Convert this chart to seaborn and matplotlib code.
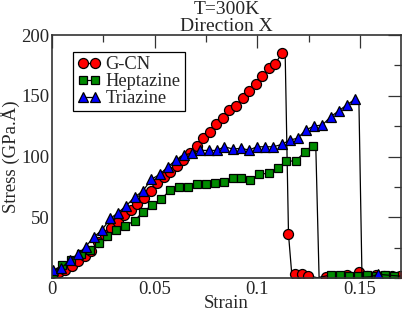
import matplotlib
matplotlib.use("Agg")
import matplotlib.pyplot as plt
import seaborn as sns
import pandas as pd
from matplotlib.ticker import MultipleLocator

# ---------------- data ----------------
gcn_strain = [0.0000, 0.0032, 0.0064, 0.0096, 0.0128, 0.0160, 0.0192, 0.0224, 0.0256, 0.0288,
              0.0320, 0.0352, 0.0384, 0.0416, 0.0448, 0.0480, 0.0512, 0.0544, 0.0576, 0.0608,
              0.0640, 0.0672, 0.0704, 0.0736, 0.0768, 0.0800, 0.0832, 0.0864, 0.0896, 0.0928,
              0.0960, 0.0992, 0.1024, 0.1056, 0.1088, 0.1120, 0.1136, 0.1152, 0.1168, 0.1184,
              0.1216, 0.1248, 0.1290, 0.1333, 0.1390, 0.1439, 0.1495, 0.1536, 0.1576, 0.1616,
              0.1655, 0.1697]
gcn_stress = [4.5, 5.0, 6.5, 10.0, 14.0, 18.0, 22.0, 30.0, 35.0, 41.0,
              46.0, 52.0, 56.0, 61.0, 66.0, 72.0, 78.0, 83.0, 87.5, 92.0,
              97.5, 102.5, 109.0, 115.0, 120.0, 126.5, 132.0, 138.0, 141.5, 148.5,
              154.0, 160.0, 166.0, 172.5, 176.5, 185.0, 183.0, 36.0, 3.0, 3.0,
              3.0, 2.0, 0.3, 0.5, 1.0, 2.5, 5.0, 2.0, 2.5, 1.5,
              2.0, 2.0]
gcn_marker = [True] * 36 + [False, True, False, True, True, True, False, True, False,
                            True, True, True, True, True, True, True]

hep_strain = [0.0006, 0.0047, 0.0092, 0.0139, 0.0184, 0.0228, 0.0270, 0.0312, 0.0357, 0.0403,
              0.0443, 0.0489, 0.0532, 0.0576, 0.0621, 0.0662, 0.0707, 0.0751, 0.0794, 0.0837,
              0.0880, 0.0922, 0.0966, 0.1010, 0.1055, 0.1099, 0.1142, 0.1188, 0.1233, 0.1269,
              0.1285, 0.1301, 0.1358, 0.1403, 0.1447, 0.1492, 0.1535, 0.1580, 0.1623, 0.1667]
hep_stress = [4.4, 10.7, 14.8, 19.7, 23.0, 29.0, 34.6, 39.5, 43.0, 47.2,
              54.6, 60.0, 65.0, 72.4, 75.0, 75.0, 77.0, 77.4, 78.0, 79.3,
              82.0, 82.6, 80.7, 85.6, 86.1, 90.8, 96.0, 96.5, 104.0, 108.9,
              108.0, 0.5, 2.5, 2.5, 2.0, 1.7, 2.5, 2.0, 2.5, 1.7]
hep_marker = [True] * 30 + [False, False] + [True] * 8

tri_strain = [0.0006, 0.0046, 0.0087, 0.0127, 0.0164, 0.0205, 0.0242, 0.0284, 0.0321, 0.0362,
              0.0402, 0.0443, 0.0484, 0.0524, 0.0563, 0.0603, 0.0642, 0.0683, 0.0723, 0.0764,
              0.0802, 0.0840, 0.0880, 0.0921, 0.0961, 0.0997, 0.1039, 0.1078, 0.1120, 0.1159,
              0.1196, 0.1236, 0.1277, 0.1317, 0.1358, 0.1398, 0.1435, 0.1476,
              0.1495, 0.1510, 0.1550, 0.1590, 0.1700]
tri_stress = [6.3, 8.0, 15.0, 19.7, 25.8, 34.0, 39.2, 49.0, 53.6, 59.5,
              66.5, 71.7, 81.2, 85.2, 91.3, 97.0, 101.0, 103.0, 105.0, 105.0,
              105.0, 108.0, 106.2, 106.7, 105.3, 108.0, 108.0, 108.0, 110.0, 113.6,
              115.0, 121.8, 125.1, 125.9, 132.8, 137.7, 142.4, 147.1,
              145.0, 0.5, 1.0, 3.0, 1.5]
tri_marker = [True] * 38 + [False, False, False, True, False]

series_names = ["G-CN", "Heptazine", "Triazine"]
series_colors = ["#ff0000", "#008b00", "#0000ff"]
series_markers = ["o", "s", "^"]
series_sizes = [7.2, 6.4, 7.4]

x_ticks = [0, 0.05, 0.1, 0.15]
x_ticklabels = ["0", "0.05", "0.1", "0.15"]
y_ticks = [50, 100, 150, 200]
y_ticklabels = ["50", "100", "150", "200"]

# ---------------- plot ----------------
sns.set_theme(style="white")
plt.rcParams["font.family"] = ["Liberation Serif", "DejaVu Serif"]

fig = plt.figure(figsize=(4.07, 3.14), dpi=100)
ax = fig.add_axes([52 / 407, 1 - 278 / 314, 349 / 407, 243 / 314])

data_sets = [(gcn_strain, gcn_stress, gcn_marker),
             (hep_strain, hep_stress, hep_marker),
             (tri_strain, tri_stress, tri_marker)]

for (xs, ys, mk), name, col, m, ms in zip(data_sets, series_names, series_colors,
                                          series_markers, series_sizes):
    df = pd.DataFrame({"Strain": xs, "Stress": ys})
    sns.lineplot(data=df, x="Strain", y="Stress", ax=ax, estimator=None, sort=False,
                 color="black", lw=0.9, marker=m, markersize=ms,
                 markerfacecolor=col, markeredgecolor="black", markeredgewidth=0.9,
                 markevery=mk, label=name, clip_on=True)

ax.set_xlim(0, 0.17)
ax.set_ylim(0, 200)
ax.set_xticks(x_ticks)
ax.set_xticklabels(x_ticklabels)
ax.set_yticks(y_ticks)
ax.set_yticklabels(y_ticklabels)
ax.xaxis.set_minor_locator(MultipleLocator(0.025))
ax.yaxis.set_minor_locator(MultipleLocator(25))

ax.tick_params(which="both", direction="in", top=True, right=True, color="#333333",
               width=0.9, labelsize=13.5)
ax.tick_params(which="major", length=9.2)
ax.tick_params(which="minor", length=5)
ax.tick_params(axis="x", pad=2)
ax.tick_params(axis="y", pad=2)
for s in ax.spines.values():
    s.set_color("#333333")
    s.set_linewidth(1.2)

ax.set_xlabel("Strain", fontsize=13.5, labelpad=-2)
ax.set_ylabel("Stress (GPa.Å)", fontsize=13.5, labelpad=1)
ax.set_title("T=300K\nDirection X", fontsize=14, linespacing=1.0, pad=3)

leg = ax.legend(loc="upper left", bbox_to_anchor=(0.060, 0.930), borderaxespad=0,
                numpoints=2, fontsize=13.3, handlelength=1.3, handletextpad=0.25,
                borderpad=0.22, labelspacing=0.0, fancybox=False, framealpha=1,
                edgecolor="black")
leg.get_frame().set_linewidth(0.9)
for h in leg.legend_handles:
    h.set_markevery(None)

fig.savefig("out.png", dpi=100)
